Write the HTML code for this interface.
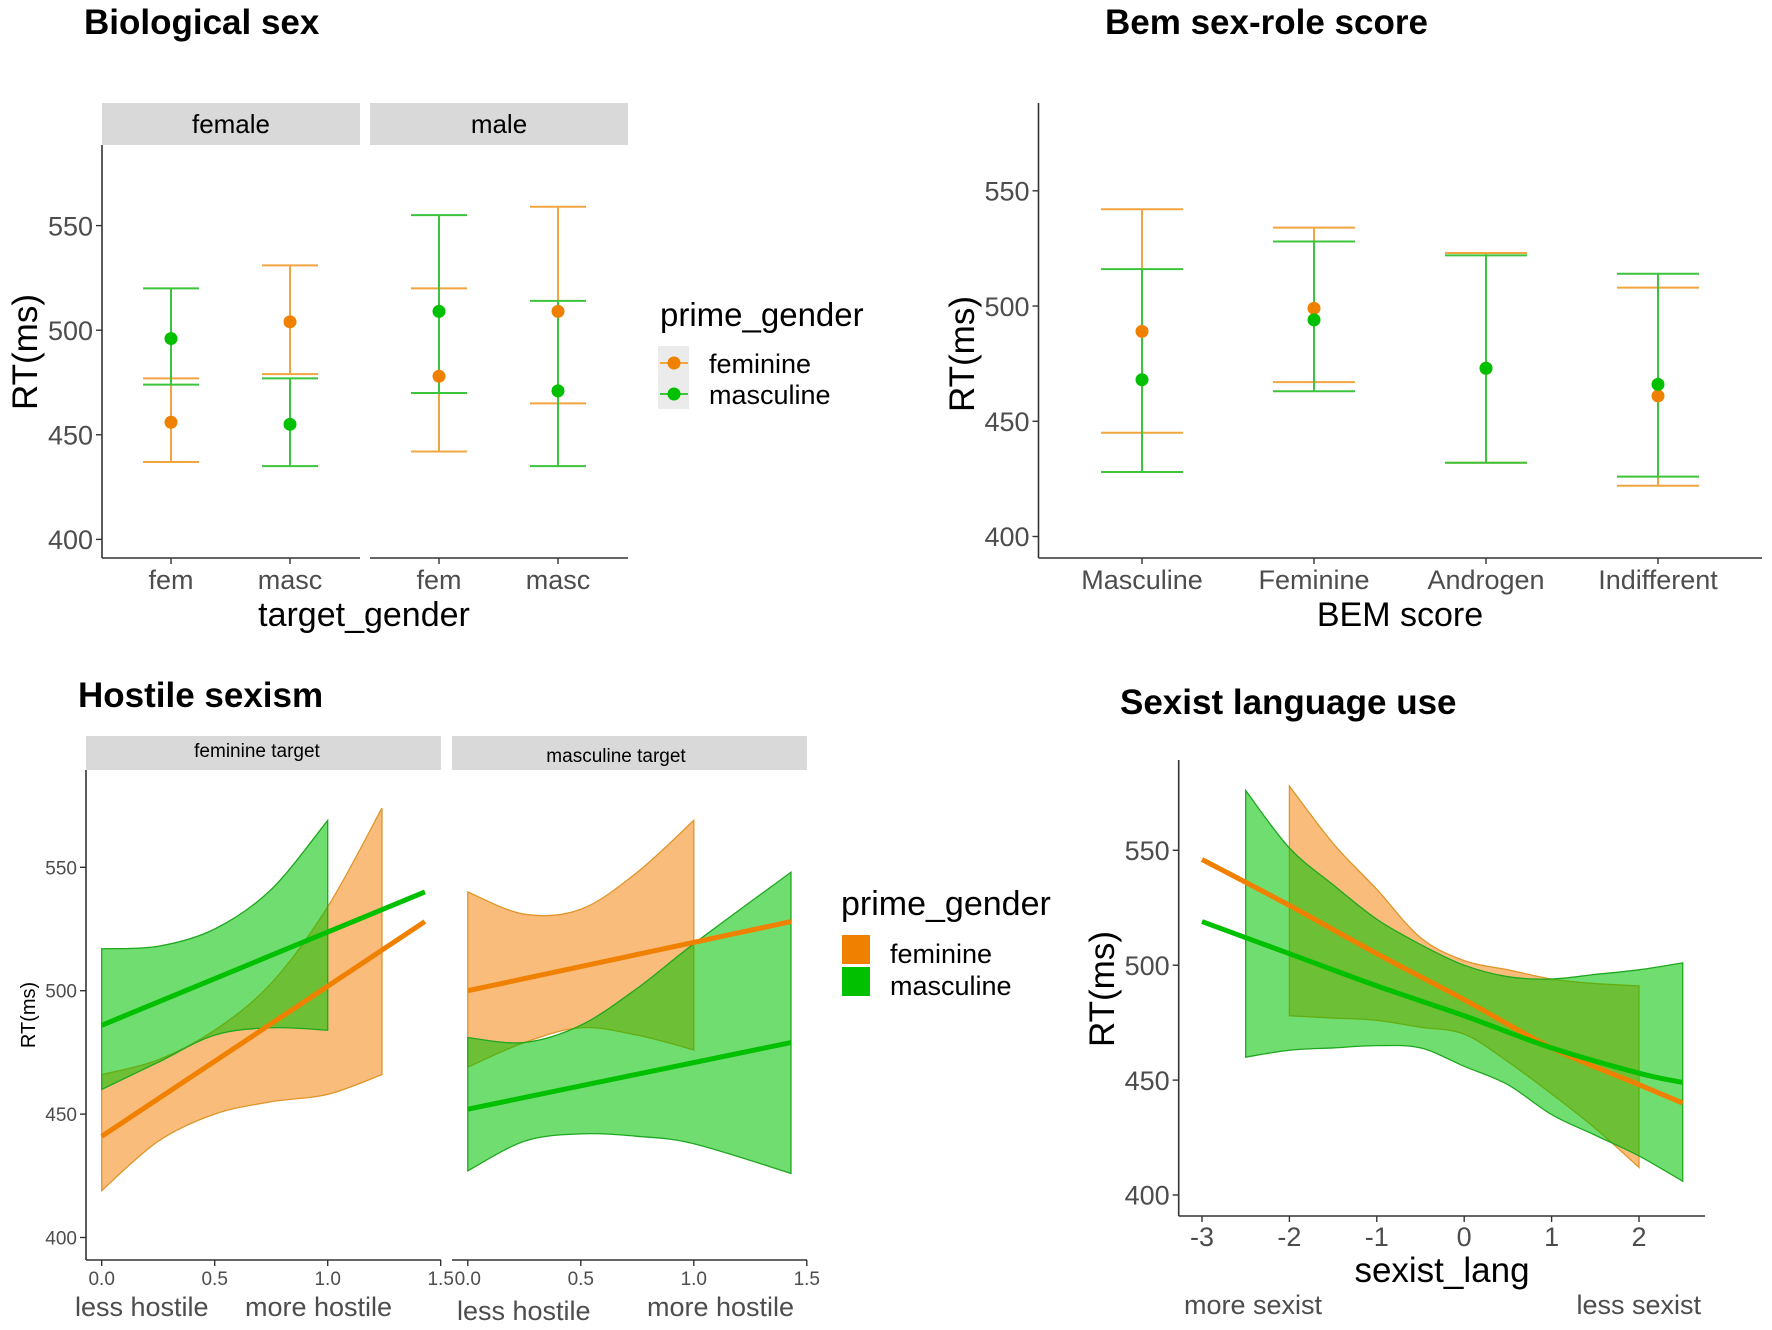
<!DOCTYPE html>
<html><head><meta charset="utf-8"><style>
html,body{margin:0;padding:0;background:#fff;}
svg{display:block;font-family:"Liberation Sans",sans-serif;}
</style></head><body>
<svg id="c" width="1772" height="1330" viewBox="0 0 1772 1330"></svg>
<script>
// ---- Panel 1 data (Biological sex) ----
const p1Cats = ['fem','masc','fem','masc'];
const p1FemMean = [456,504,478,509];
const p1FemLo = [437,479,442,465];
const p1FemHi = [477,531,520,559];
const p1MasMean = [496,455,509,471];
const p1MasLo = [474,435,470,435];
const p1MasHi = [520,477,555,514];
// ---- Panel 2 data (Bem) ----
const p2Cats = ['Masculine','Feminine','Androgen','Indifferent'];
const p2FemMean = [489,499,473,461];
const p2FemLo = [445,467,432,422];
const p2FemHi = [542,534,523,508];
const p2MasMean = [468,494,473,466];
const p2MasLo = [428,463,432,426];
const p2MasHi = [516,528,522,514];
const yTicks = [400,450,500,550];
// ---- Panel 3 data (Hostile sexism) ----
const p3Ticks = [0,0.5,1.0,1.5];
const p3TickLabels = ['0.0','0.5','1.0','1.5'];
const f1GreenX = [0,0.25,0.5,0.75,1.0];
const f1GreenHi = [517,518,525,541,569];
const f1GreenLo = [460,471,482,485,484];
const f1OrangeX = [0,0.25,0.5,0.75,1.0,1.24];
const f1OrangeHi = [466,472,484,503,534,574];
const f1OrangeLo = [419,439,450,455,458,466];
const f1LineX = [0,1.43];
const f1GreenLine = [486,540];
const f1OrangeLine = [441,528];
const f2OrangeX = [0,0.25,0.5,0.75,1.0];
const f2OrangeHi = [540,531,533,548,569];
const f2OrangeLo = [469,479,485,482,476];
const f2GreenX = [0,0.25,0.5,0.75,1.0,1.43];
const f2GreenHi = [481,479,486,501,519,548];
const f2GreenLo = [427,439,442,441,438,426];
const f2LineX = [0,1.43];
const f2OrangeLine = [500,528];
const f2GreenLine = [452,479];
// ---- Panel 4 data (Sexist language) ----
const p4Ticks = [-3,-2,-1,0,1,2];
const p4LineX = [-3,-2,-1,0,1,2,2.5];
const p4OrangeLine = [546,526,505,485,464,448,440];
const p4GreenLine = [519,505,491,478,464,453,449];
const p4OrangeX = [-2,-1.5,-1,-0.5,0,0.5,1,1.5,2];
const p4OrangeHi = [578,553,533,512,502,498,494,492,491];
const p4OrangeLo = [478,477,476,473,470,458,444,429,412];
const p4GreenX = [-2.5,-2,-1.5,-1,-0.5,0,0.5,1,1.5,2,2.5];
const p4GreenHi = [576,551,535,520,509,500,495,494,496,498,501];
const p4GreenLo = [460,463,464,465,464,456,448,435,426,417,406];

const NS='http://www.w3.org/2000/svg';
const svg=document.getElementById('c');
function mk(tag,attrs,name,parent){
  const e=document.createElementNS(NS,tag);
  for(const k in attrs)e.setAttribute(k,attrs[k]);
  
  
  (parent||svg).appendChild(e);return e;
}
function txt(x,y,s,size,name,opt){
  opt=opt||{};
  const t=mk('text',{x:x,y:y,'font-size':size,fill:opt.fill||'#000','text-anchor':opt.anchor||'start','font-weight':opt.bold?'bold':'normal'},name);
  if(opt.rot)t.setAttribute('transform','rotate(-90 '+x+' '+y+')');
  t.textContent=s;return t;
}
function lin(d0,d1,r0,r1){return v=>r0+(v-d0)*(r1-r0)/(d1-d0);}
const OR='#f08000',GR='#00c000',ORb='#f0a540',GRb='#3cc43c';
const ORF='rgba(245,140,25,0.58)',GRF='rgba(0,195,0,0.56)';

function yAxis(x,y,top,bot,size,name){
  mk('line',{x1:x,y1:top,x2:x,y2:bot,stroke:'#333','stroke-width':1.6},name+'-line');
  yTicks.forEach(v=>{
    mk('line',{x1:x-6,y1:y(v),x2:x,y2:y(v),stroke:'#333','stroke-width':1.4},name+'-tick');
    txt(x-9,y(v)+size*0.36,String(v),size,name+'-label',{anchor:'end',fill:'#4d4d4d'});
  });
}
function errbar(x,lo,hi,hw,col,name,y){
  mk('line',{x1:x,y1:y(lo),x2:x,y2:y(hi),stroke:col,'stroke-width':2},name);
  mk('line',{x1:x-hw,y1:y(lo),x2:x+hw,y2:y(lo),stroke:col,'stroke-width':2},name+'-cap-low');
  mk('line',{x1:x-hw,y1:y(hi),x2:x+hw,y2:y(hi),stroke:col,'stroke-width':2},name+'-cap-high');
}
function smooth(P){ // catmull-rom through points, returns path segment string (without initial M)
  let d='';
  for(let i=0;i<P.length-1;i++){
    const p0=P[Math.max(i-1,0)],p1=P[i],p2=P[i+1],p3=P[Math.min(i+2,P.length-1)];
    const c1=[p1[0]+(p2[0]-p0[0])/6,p1[1]+(p2[1]-p0[1])/6];
    const c2=[p2[0]-(p3[0]-p1[0])/6,p2[1]-(p3[1]-p1[1])/6];
    d+=' C'+c1[0]+','+c1[1]+' '+c2[0]+','+c2[1]+' '+p2[0]+','+p2[1];
  }
  return d;
}
function ribbon(xs,hi,lo,xf,yf,fill,stroke,name){
  const up=xs.map((v,i)=>[xf(v),yf(hi[i])]);
  const dn=xs.map((v,i)=>[xf(v),yf(lo[i])]).reverse();
  const d='M'+up[0][0]+','+up[0][1]+smooth(up)+' L'+dn[0][0]+','+dn[0][1]+smooth(dn)+' Z';
  mk('path',{d:d,fill:fill,stroke:stroke,'stroke-width':1.3},name);
}
function fit(xs,ys,xf,yf,col,name){
  const P=xs.map((v,i)=>[xf(v),yf(ys[i])]);
  mk('path',{d:'M'+P[0][0]+','+P[0][1]+smooth(P),fill:'none',stroke:col,'stroke-width':5},name);
}

// ===== Panel 1 =====
txt(84,34,'Biological sex',35,'panel1-title',{bold:true});
const y1=lin(400,550,539.4,225.6);
mk('rect',{x:102,y:103,width:258,height:42,fill:'#d9d9d9'},'strip-female');
mk('rect',{x:370,y:103,width:258,height:42,fill:'#d9d9d9'},'strip-male');
txt(231,133,'female',26,'strip-female-label',{anchor:'middle'});
txt(499,133,'male',26,'strip-male-label',{anchor:'middle'});
yAxis(102,y1,145,558,27,'p1-y-axis');
mk('line',{x1:102,y1:558,x2:360,y2:558,stroke:'#333','stroke-width':1.6},'p1-x-axis-female');
mk('line',{x1:370,y1:558,x2:628,y2:558,stroke:'#333','stroke-width':1.6},'p1-x-axis-male');
const p1x=i=>(i<2?102:370)+69+(i%2)*119;
p1Cats.forEach((c,i)=>{
  mk('line',{x1:p1x(i),y1:558,x2:p1x(i),y2:564,stroke:'#333','stroke-width':1.4},'p1-x-tick');
  txt(p1x(i),589,c,27,'p1-x-label',{anchor:'middle',fill:'#4d4d4d'});
});
p1Cats.forEach((c,i)=>errbar(p1x(i),p1FemLo[i],p1FemHi[i],28,ORb,'p1-errbar-feminine',y1));
p1Cats.forEach((c,i)=>errbar(p1x(i),p1MasLo[i],p1MasHi[i],28,GRb,'p1-errbar-masculine',y1));
p1Cats.forEach((c,i)=>mk('circle',{cx:p1x(i),cy:y1(p1FemMean[i]),r:6.5,fill:OR},'p1-point-feminine'));
p1Cats.forEach((c,i)=>mk('circle',{cx:p1x(i),cy:y1(p1MasMean[i]),r:6.5,fill:GR},'p1-point-masculine'));
txt(364,626,'target_gender',34,'p1-x-title',{anchor:'middle'});
txt(37,352,'RT(ms)',35,'p1-y-title',{anchor:'middle',rot:true});
// legend 1
txt(660,326,'prime_gender',33,'legend1-title');
mk('rect',{x:658,y:346,width:31,height:63,fill:'#ebebeb'},'legend1-key-bg');
mk('line',{x1:660,y1:363,x2:688,y2:363,stroke:ORb,'stroke-width':2},'legend1-key-feminine-line');
mk('circle',{cx:674,cy:363,r:6.5,fill:OR},'legend1-key-feminine');
mk('line',{x1:660,y1:394,x2:688,y2:394,stroke:GRb,'stroke-width':2},'legend1-key-masculine-line');
mk('circle',{cx:674,cy:394,r:6.5,fill:GR},'legend1-key-masculine');
txt(709,373,'feminine',27,'legend1-label-feminine');
txt(709,404,'masculine',27,'legend1-label-masculine');

// ===== Panel 2 =====
txt(1105,34,'Bem sex-role score',35,'panel2-title',{bold:true});
const y2=lin(400,550,536.5,190.8);
yAxis(1038.5,y2,103,558,27,'p2-y-axis');
mk('line',{x1:1038.5,y1:558,x2:1762,y2:558,stroke:'#333','stroke-width':1.6},'p2-x-axis');
const p2x=i=>1142+i*172;
p2Cats.forEach((c,i)=>{
  mk('line',{x1:p2x(i),y1:558,x2:p2x(i),y2:564,stroke:'#333','stroke-width':1.4},'p2-x-tick');
  txt(p2x(i),589,c,27,'p2-x-label',{anchor:'middle',fill:'#4d4d4d'});
});
p2Cats.forEach((c,i)=>errbar(p2x(i),p2FemLo[i],p2FemHi[i],41,ORb,'p2-errbar-feminine',y2));
p2Cats.forEach((c,i)=>errbar(p2x(i),p2MasLo[i],p2MasHi[i],41,GRb,'p2-errbar-masculine',y2));
p2Cats.forEach((c,i)=>mk('circle',{cx:p2x(i),cy:y2(p2FemMean[i]),r:6.5,fill:OR},'p2-point-feminine'));
p2Cats.forEach((c,i)=>mk('circle',{cx:p2x(i),cy:y2(p2MasMean[i]),r:6.5,fill:GR},'p2-point-masculine'));
txt(1400,626,'BEM score',34,'p2-x-title',{anchor:'middle'});
txt(974,354,'RT(ms)',35,'p2-y-title',{anchor:'middle',rot:true});

// ===== Panel 3 =====
txt(78,707,'Hostile sexism',35,'panel3-title',{bold:true});
const y3=lin(400,550,1237.5,867.3);
const x3a=lin(0,1.5,101.7,440.7), x3b=lin(0,1.5,467.8,806.8);
mk('rect',{x:86,y:736,width:355,height:34,fill:'#d9d9d9'},'strip-feminine-target');
mk('rect',{x:452,y:736,width:355,height:34,fill:'#d9d9d9'},'strip-masculine-target');
txt(257,757,'feminine target',19,'strip-feminine-target-label',{anchor:'middle'});
txt(616,762,'masculine target',19,'strip-masculine-target-label',{anchor:'middle'});
mk('line',{x1:86,y1:770,x2:86,y2:1260,stroke:'#333','stroke-width':1.6},'p3-y-axis-line');
yTicks.forEach(v=>{
  mk('line',{x1:80,y1:y3(v),x2:86,y2:y3(v),stroke:'#333','stroke-width':1.4},'p3-y-tick');
  txt(77,y3(v)+7,String(v),19,'p3-y-label',{anchor:'end',fill:'#4d4d4d'});
});
mk('line',{x1:86,y1:1260,x2:441,y2:1260,stroke:'#333','stroke-width':1.6},'p3-x-axis-facet1');
mk('line',{x1:452,y1:1260,x2:807,y2:1260,stroke:'#333','stroke-width':1.6},'p3-x-axis-facet2');
p3Ticks.forEach((v,i)=>{
  [x3a,x3b].forEach(xf=>{
    mk('line',{x1:xf(v),y1:1260,x2:xf(v),y2:1266,stroke:'#333','stroke-width':1.4},'p3-x-tick');
    txt(xf(v),1285,p3TickLabels[i],19,'p3-x-label',{anchor:'middle',fill:'#4d4d4d'});
  });
});
ribbon(f1OrangeX,f1OrangeHi,f1OrangeLo,x3a,y3,ORF,'#e0952a','p3-ribbon-feminine-facet1');
ribbon(f1GreenX,f1GreenHi,f1GreenLo,x3a,y3,GRF,'#1fa81f','p3-ribbon-masculine-facet1');
fit(f1LineX,f1OrangeLine,x3a,y3,OR,'p3-fit-feminine-facet1');
fit(f1LineX,f1GreenLine,x3a,y3,GR,'p3-fit-masculine-facet1');
ribbon(f2OrangeX,f2OrangeHi,f2OrangeLo,x3b,y3,ORF,'#e0952a','p3-ribbon-feminine-facet2');
ribbon(f2GreenX,f2GreenHi,f2GreenLo,x3b,y3,GRF,'#1fa81f','p3-ribbon-masculine-facet2');
fit(f2LineX,f2OrangeLine,x3b,y3,OR,'p3-fit-feminine-facet2');
fit(f2LineX,f2GreenLine,x3b,y3,GR,'p3-fit-masculine-facet2');
txt(75,1316,'less hostile',27,'p3-less-hostile-1',{fill:'#4d4d4d'});
txt(245,1316,'more hostile',27,'p3-more-hostile-1',{fill:'#4d4d4d'});
txt(457,1320,'less hostile',27,'p3-less-hostile-2',{fill:'#4d4d4d'});
txt(647,1316,'more hostile',27,'p3-more-hostile-2',{fill:'#4d4d4d'});
txt(35,1015,'RT(ms)',20,'p3-y-title',{anchor:'middle',rot:true});
// legend 2
txt(841,915,'prime_gender',34,'legend2-title');
mk('rect',{x:842,y:935,width:28,height:29,fill:OR},'legend2-key-feminine');
mk('rect',{x:842,y:967,width:28,height:29,fill:GR},'legend2-key-masculine');
txt(890,963,'feminine',27,'legend2-label-feminine');
txt(890,995,'masculine',27,'legend2-label-masculine');

// ===== Panel 4 =====
txt(1120,714,'Sexist language use',35,'panel4-title',{bold:true});
const y4=lin(400,550,1195,850.3), x4=lin(-3,2,1202,1639);
yAxis(1178.7,y4,760,1216,27,'p4-y-axis');
mk('line',{x1:1178.7,y1:1216,x2:1705,y2:1216,stroke:'#333','stroke-width':1.6},'p4-x-axis');
p4Ticks.forEach(v=>{
  mk('line',{x1:x4(v),y1:1216,x2:x4(v),y2:1222,stroke:'#333','stroke-width':1.4},'p4-x-tick');
  txt(x4(v),1246,String(v),27,'p4-x-label',{anchor:'middle',fill:'#4d4d4d'});
});
ribbon(p4OrangeX,p4OrangeHi,p4OrangeLo,x4,y4,ORF,'#e0952a','p4-ribbon-feminine');
ribbon(p4GreenX,p4GreenHi,p4GreenLo,x4,y4,GRF,'#1fa81f','p4-ribbon-masculine');
fit(p4LineX,p4OrangeLine,x4,y4,OR,'p4-fit-feminine');
fit(p4LineX,p4GreenLine,x4,y4,GR,'p4-fit-masculine');
txt(1442,1282,'sexist_lang',35,'p4-x-title',{anchor:'middle'});
txt(1184,1314,'more sexist',27,'p4-more-sexist',{fill:'#4d4d4d'});
txt(1701,1314,'less sexist',27,'p4-less-sexist',{anchor:'end',fill:'#4d4d4d'});
txt(1114,989,'RT(ms)',35,'p4-y-title',{anchor:'middle',rot:true});
</script>
</body></html>
